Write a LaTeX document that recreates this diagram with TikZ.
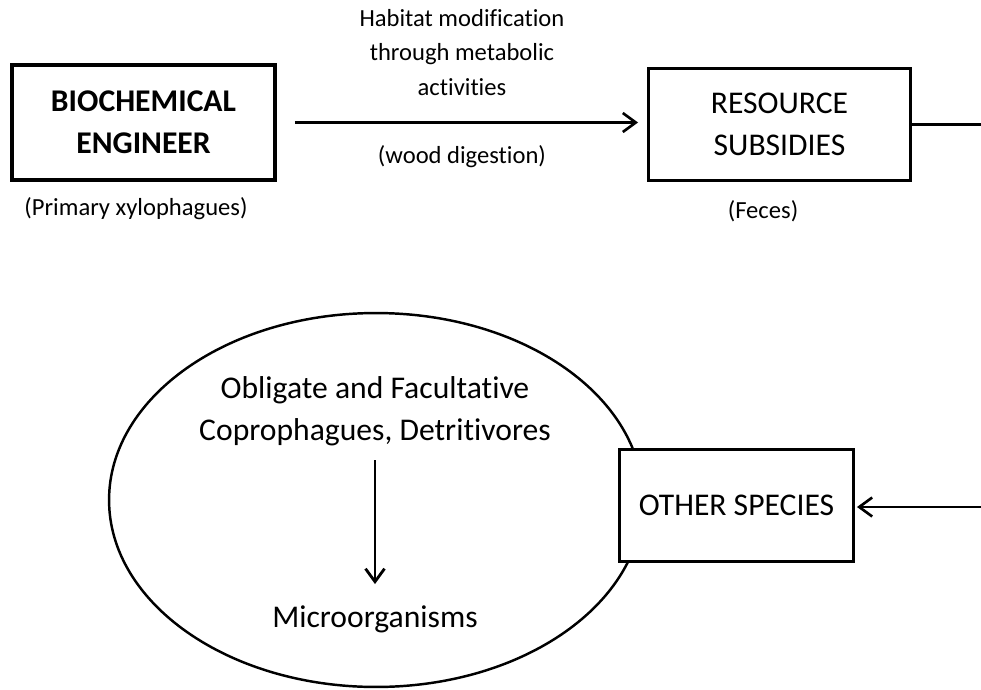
\documentclass[tikz,border=0pt]{standalone}
\usepackage{fontspec}
\setmainfont{Carlito}[Ligatures=NoCommon]
\usetikzlibrary{positioning, shapes.geometric, arrows.meta}
\tikzset{
	boxtext/.style={font=\fontsize{18}{24}\selectfont, align=center}
}
\tikzset{
	smalltext/.style={font=\fontsize{14}{19.5}\selectfont, align=center, inner sep=0pt}
}

\begin{document}
\begin{tikzpicture}[x=0.02cm, y=-0.02cm, >={Straight Barb[length=2.6mm, width=3.8mm]}]
      \useasboundingbox (0,0) rectangle (981,690);
      % top row: engineer and the subsidies it leaves
      \node[draw, line width=2.2pt, minimum width=5.26cm, minimum height=2.3cm, boxtext] (be) at (143.5,122.5) {\textbf{BIOCHEMICAL}\\\textbf{ENGINEER}};
      \node[below=0.3cm of be, xshift=-0.15cm, smalltext] (bename) {(Primary xylophagues)};
      \node[draw, line width=1.7pt, minimum width=5.24cm, minimum height=2.24cm, boxtext] (rs) at (779.5,124.5) {RESOURCE\\SUBSIDIES};
      \node[below=0.36cm of rs, xshift=-0.33cm, smalltext] (rsname) {(Feces)};
      \draw[->, line width=1.5pt, shorten <=0.36cm, shorten >=0.18cm] (be.east) -- (be.east -| rs.west)
        node[midway, above=0.52cm, smalltext] (how) {Habitat modification\\through metabolic\\activities}
        node[midway, below=0.44cm, smalltext] (dig) {(wood digestion)};
      \coordinate (rsout) at (981,124.5);
      \draw[line width=1.5pt] (rs.east) -- (rsout);
      % community round the dung
      \node[draw, ellipse, line width=1.4pt, minimum width=10.68cm, minimum height=7.48cm] (eco) at (376,500) {};
      \node[boxtext, inner sep=0pt] (copro) at (375,411) {Obligate and Facultative\\Coprophagues, Detritivores};
      \node[boxtext, inner sep=0pt] (micro) at (375,619) {Microorganisms};
      \draw[->, line width=1.6pt, shorten <=0.28cm, shorten >=0.42cm] (copro) -- (micro);
      % other species, fed from the right
      \node[draw, fill=white, line width=1.7pt, minimum width=4.68cm, minimum height=2.24cm, boxtext] (os) at (736.5,505.5) {OTHER SPECIES};
      \coordinate (osin) at (981,507);
      \draw[->, line width=1.5pt, shorten >=0.04cm] (osin) -- (os.east |- osin);
    \end{tikzpicture}
\end{document}
